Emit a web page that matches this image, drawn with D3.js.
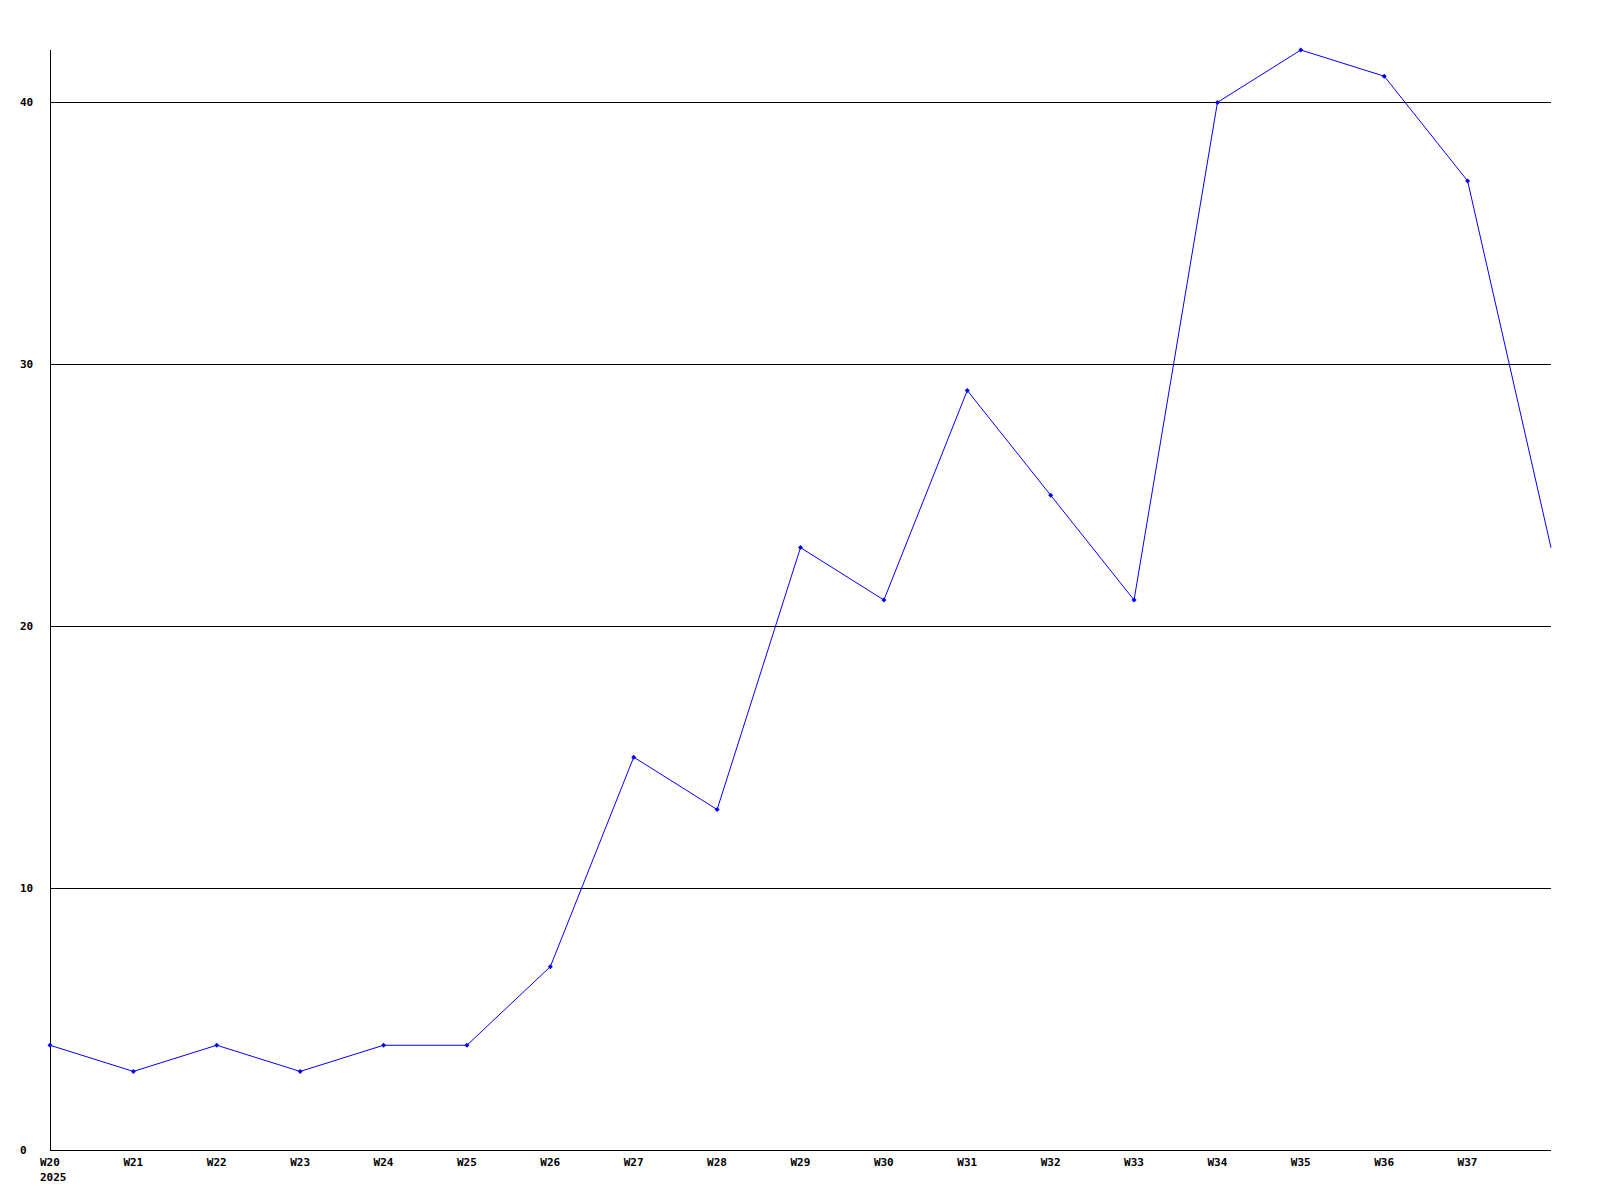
<!DOCTYPE html>
<html>
<head>
<meta charset="utf-8">
<script src="https://cdn.jsdelivr.net/npm/d3@7"></script>
<style>
  body { margin: 0; background: #fff; }
  svg { display: block; }
  text { font-family: "DejaVu Sans Mono", monospace; font-weight: bold; font-size: 11px; fill: #000; }
</style>
</head>
<body>
<script>
const weeks = ['W20', 'W21', 'W22', 'W23', 'W24', 'W25', 'W26', 'W27', 'W28', 'W29',
  'W30', 'W31', 'W32', 'W33', 'W34', 'W35', 'W36', 'W37', 'W38']
const counts = [4, 3, 4, 3, 4, 4, 7, 15, 13, 23, 21, 29, 25, 21, 40, 42, 41, 37, 23]
const labeledWeeks = weeks.slice(0, 18)
const yTicks = [0, 10, 20, 30, 40]
const yearLabel = '2025'

const W = 1600, H = 1200
const margin = { top: 50, right: 49, bottom: 50, left: 50 }

const svg = d3.select('body').append('svg')
  .attr('width', W)
  .attr('height', H)

const x = d3.scaleLinear()
  .domain([0, weeks.length - 1])
  .range([margin.left, W - margin.right])

const y = d3.scaleLinear()
  .domain([0, 42])
  .range([H - margin.bottom, margin.top])

const px = v => Math.round(v) + 0.5

// horizontal grid lines
svg.append('g')
  .selectAll('line')
  .data(yTicks)
  .join('line')
  .attr('x1', px(x(0)))
  .attr('x2', x(weeks.length - 1))
  .attr('y1', d => px(y(d)))
  .attr('y2', d => px(y(d)))
  .attr('stroke', '#000')
  .attr('shape-rendering', 'crispEdges')

// y axis line
svg.append('line')
  .attr('x1', px(x(0)))
  .attr('x2', px(x(0)))
  .attr('y1', y(42))
  .attr('y2', px(y(0)))
  .attr('stroke', '#000')
  .attr('shape-rendering', 'crispEdges')

// y labels
svg.append('g')
  .selectAll('text')
  .data(yTicks)
  .join('text')
  .attr('x', 20)
  .attr('y', d => y(d))
  .attr('dy', '0.35em')
  .text(d => d)

// x labels
svg.append('g')
  .selectAll('text')
  .data(labeledWeeks)
  .join('text')
  .attr('x', (d, i) => x(i) - 10)
  .attr('y', y(0) + 16)
  .text(d => d)

svg.append('text')
  .attr('x', x(0) - 10)
  .attr('y', y(0) + 31)
  .text(yearLabel)

// series line
const line = d3.line()
  .x((d, i) => x(i))
  .y(d => y(d))

svg.append('path')
  .datum(counts)
  .attr('d', line)
  .attr('fill', 'none')
  .attr('stroke', '#0000ff')
  .attr('stroke-width', 1)

// point markers (last point sits on the plot edge and has none)
svg.append('g')
  .selectAll('path')
  .data(counts.slice(0, -1))
  .join('path')
  .attr('d', (d, i) => {
    const cx = x(i), cy = y(d)
    return `M${cx - 2.5},${cy}L${cx},${cy - 2.5}L${cx + 2.5},${cy}L${cx},${cy + 2.5}Z`
  })
  .attr('fill', '#0000ff')
</script>
</body>
</html>
